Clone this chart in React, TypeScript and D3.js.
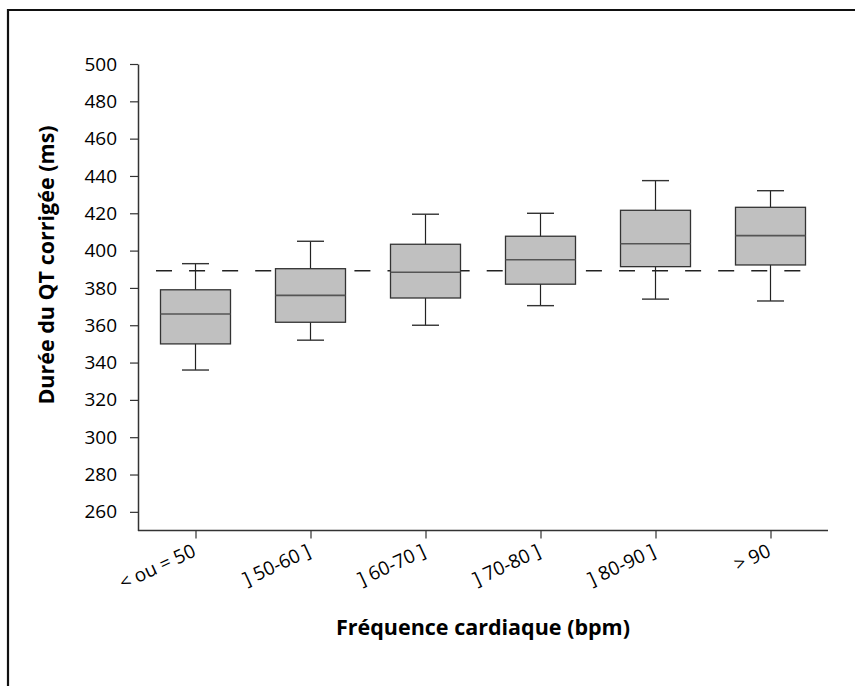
import React, { useEffect, useRef } from "react";
import * as d3 from "d3";

const categories = ["< ou = 50", "] 50-60 ]", "] 60-70 ]", "] 70-80 ]", "] 80-90 ]", "> 90"];
const whiskerLow = [336, 352, 360, 370.5, 374, 373];
const q1 = [350, 361.6, 374.6, 382, 391.4, 392.3];
const median = [366, 376, 388.4, 395.1, 403.7, 408];
const q3 = [379, 390.3, 403.4, 407.7, 421.6, 423.2];
const whiskerHigh = [393, 405, 419.5, 420, 437.5, 432.1];
const yTicks = [260, 280, 300, 320, 340, 360, 380, 400, 420, 440, 460, 480, 500];
const refLine = 389.2;

const App = () => {
  const ref = useRef<SVGSVGElement | null>(null);

  useEffect(() => {
    draw();
  });

  let draw = () => {
    const svg = d3.select(ref.current);
    svg.selectAll("*").remove();

    let left = 138;
    let right = 828;
    let top = 64;
    let bottom = 530.5;
    let font = "'Open Sans', sans-serif";

    let x = d3.scalePoint<string>().domain(categories).range([left, right]).padding(0.5);
    let y = d3.scaleLinear().domain([250, 500]).range([bottom, top]);
    let boxW = 70;
    let capW = 27;

    // frame
    svg
      .append("path")
      .attr("d", "M8,686 L8,10 L855,10")
      .attr("fill", "none")
      .attr("stroke", "#111")
      .attr("stroke-width", 2.2);

    // reference line (behind boxes)
    svg
      .append("line")
      .attr("x1", 156)
      .attr("x2", 801)
      .attr("y1", y(refLine))
      .attr("y2", y(refLine))
      .attr("stroke", "#222")
      .attr("stroke-width", 1.6)
      .attr("stroke-dasharray", "16,17.07");

    let rows = categories.map((c, i) => ({
      c,
      lo: whiskerLow[i],
      q1: q1[i],
      med: median[i],
      q3: q3[i],
      hi: whiskerHigh[i],
    }));

    let g = svg.selectAll("g.box").data(rows).enter().append("g").attr("class", "box");

    g.append("line")
      .attr("x1", (d) => x(d.c)!)
      .attr("x2", (d) => x(d.c)!)
      .attr("y1", (d) => y(d.hi))
      .attr("y2", (d) => y(d.lo))
      .attr("stroke", "#222")
      .attr("stroke-width", 1.2);

    g.append("line")
      .attr("x1", (d) => x(d.c)! - capW / 2)
      .attr("x2", (d) => x(d.c)! + capW / 2)
      .attr("y1", (d) => y(d.hi))
      .attr("y2", (d) => y(d.hi))
      .attr("stroke", "#333")
      .attr("stroke-width", 1.4);

    g.append("line")
      .attr("x1", (d) => x(d.c)! - capW / 2)
      .attr("x2", (d) => x(d.c)! + capW / 2)
      .attr("y1", (d) => y(d.lo))
      .attr("y2", (d) => y(d.lo))
      .attr("stroke", "#333")
      .attr("stroke-width", 1.4);

    g.append("rect")
      .attr("x", (d) => x(d.c)! - boxW / 2)
      .attr("width", boxW)
      .attr("y", (d) => y(d.q3))
      .attr("height", (d) => y(d.q1) - y(d.q3))
      .attr("fill", "#c0c0c0")
      .attr("stroke", "#333")
      .attr("stroke-width", 1.3);

    g.append("line")
      .attr("x1", (d) => x(d.c)! - boxW / 2)
      .attr("x2", (d) => x(d.c)! + boxW / 2)
      .attr("y1", (d) => y(d.med))
      .attr("y2", (d) => y(d.med))
      .attr("stroke", "#555")
      .attr("stroke-width", 1.6);

    // y axis
    let yAxis = svg
      .append("g")
      .attr("transform", `translate(${left},0)`)
      .call(d3.axisLeft(y).tickValues(yTicks).tickSize(8).tickSizeOuter(0).tickPadding(13));
    yAxis.select(".domain").attr("stroke", "#333").attr("stroke-width", 1.5);
    yAxis.selectAll(".tick line").attr("stroke", "#333").attr("stroke-width", 1.2);
    yAxis
      .selectAll(".tick text")
      .attr("font-family", font)
      .attr("font-size", 19)
      .attr("fill", "#000");

    // x axis
    let xAxis = svg
      .append("g")
      .attr("transform", `translate(0,${bottom})`)
      .call(d3.axisBottom(x).tickSize(8).tickSizeOuter(0));
    xAxis
      .select(".domain")
      .attr("d", `M${left},0H${right}`)
      .attr("stroke", "#333")
      .attr("stroke-width", 1.5);
    xAxis.selectAll(".tick line").attr("stroke", "#333").attr("stroke-width", 1.2);
    xAxis
      .selectAll(".tick text")
      .attr("font-family", font)
      .attr("font-size", 19)
      .attr("fill", "#000")
      .attr("text-anchor", "end")
      .attr("dy", null)
      .attr("y", null)
      .attr("transform", "translate(1,25) rotate(-25)");

    // titles
    svg
      .append("text")
      .attr("x", (left + right) / 2)
      .attr("y", 635)
      .attr("text-anchor", "middle")
      .attr("font-family", font)
      .attr("font-weight", "bold")
      .attr("font-size", 21.5)
      .attr("fill", "#000")
      .text("Fréquence cardiaque (bpm)");

    svg
      .append("text")
      .attr("transform", "translate(54,265) rotate(-90)")
      .attr("text-anchor", "middle")
      .attr("font-family", font)
      .attr("font-weight", "bold")
      .attr("font-size", 21.5)
      .attr("fill", "#000")
      .text("Durée du QT corrigée (ms)");
  };

  return (
    <svg
      ref={ref}
      width={855}
      height={686}
      style={{ position: "absolute", left: 0, top: 0, background: "#fff" }}
    />
  );
};

export default App;
